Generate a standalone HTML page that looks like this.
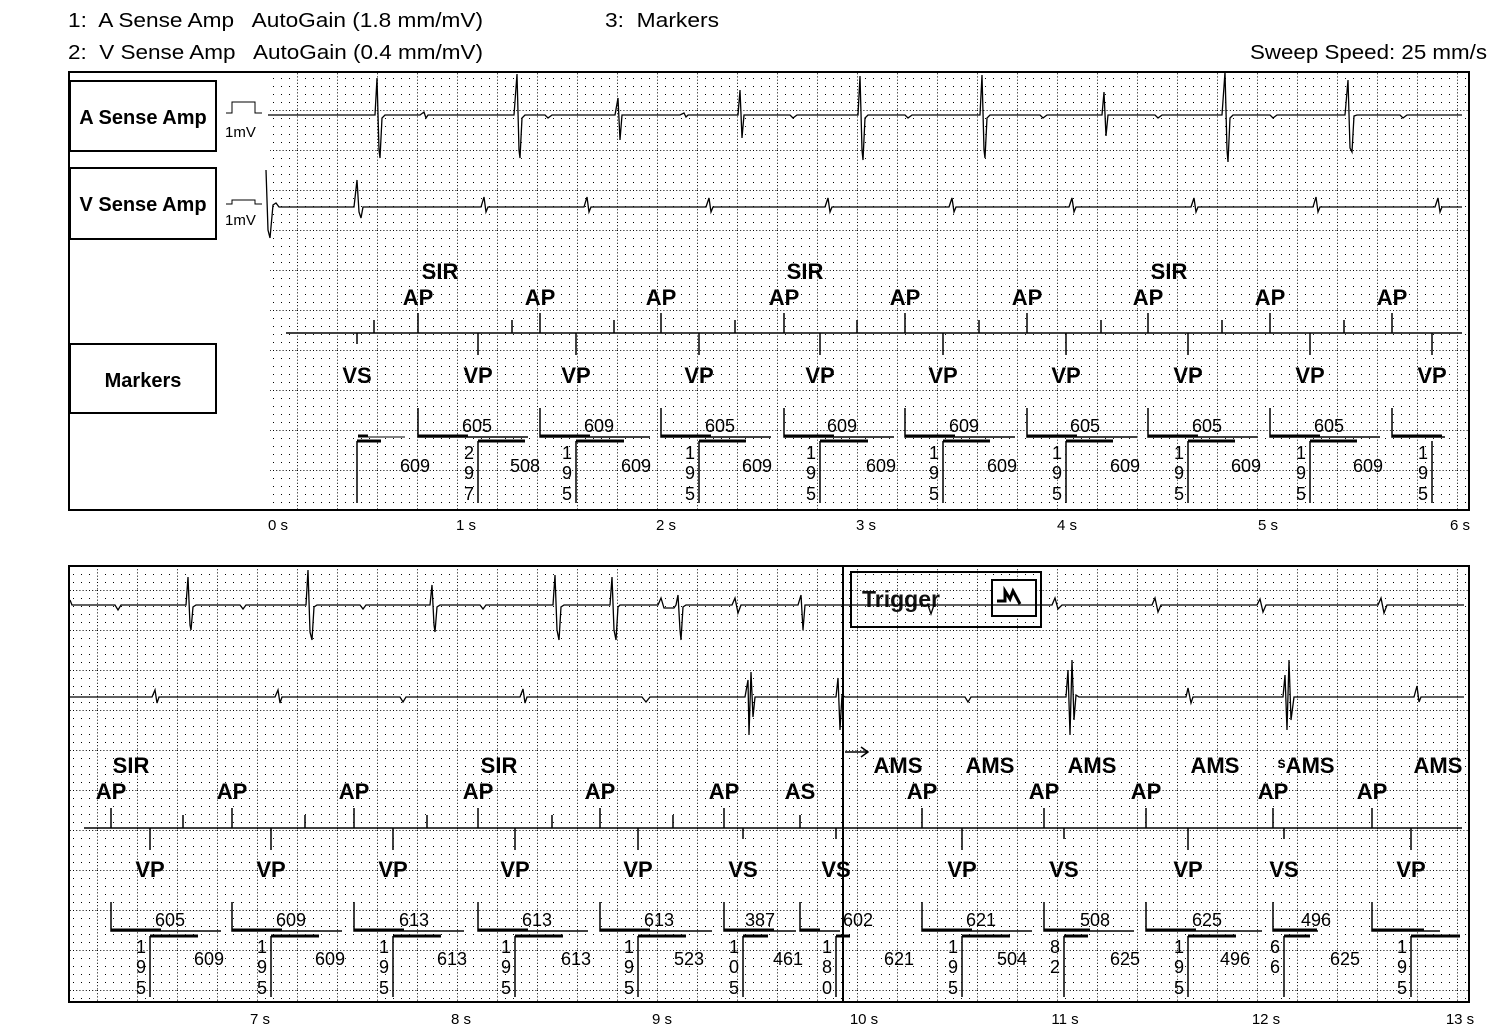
<!DOCTYPE html>
<html><head><meta charset="utf-8"><style>
html,body{margin:0;padding:0;background:#fff;}
svg{display:block;font-family:"Liberation Sans",Arial,sans-serif;}
text{white-space:pre;}
.h{font-size:20px;}
.b{font-size:22px;font-weight:bold;}
.n{font-size:18px;}
.t{font-size:15px;}
.bx{font-size:20px;font-weight:bold;}
</style></head><body>
<svg width="1500" height="1031" viewBox="0 0 1500 1031" xmlns="http://www.w3.org/2000/svg" xml:space="preserve">
<defs>
<pattern id="g" x="17" y="30" width="40" height="40" patternUnits="userSpaceOnUse">
<line x1="0.5" y1="0" x2="0.5" y2="40" stroke="#000" stroke-width="1" stroke-dasharray="1 2.2"/>
<line x1="0" y1="0.5" x2="40" y2="0.5" stroke="#000" stroke-width="1" stroke-dasharray="1 2.2"/>
<g fill="#000">
<rect x="8" y="8" width="1" height="1"/><rect x="16" y="8" width="1" height="1"/><rect x="24" y="8" width="1" height="1"/><rect x="32" y="8" width="1" height="1"/>
<rect x="8" y="16" width="1" height="1"/><rect x="16" y="16" width="1" height="1"/><rect x="24" y="16" width="1" height="1"/><rect x="32" y="16" width="1" height="1"/>
<rect x="8" y="24" width="1" height="1"/><rect x="16" y="24" width="1" height="1"/><rect x="24" y="24" width="1" height="1"/><rect x="32" y="24" width="1" height="1"/>
<rect x="8" y="32" width="1" height="1"/><rect x="16" y="32" width="1" height="1"/><rect x="24" y="32" width="1" height="1"/><rect x="32" y="32" width="1" height="1"/>
</g>
</pattern>
</defs>

<!-- header -->
<text class="h" x="68" y="27" textLength="415" lengthAdjust="spacingAndGlyphs">1:  A Sense Amp   AutoGain (1.8 mm/mV)</text>
<text class="h" x="605" y="27" textLength="114" lengthAdjust="spacingAndGlyphs">3:  Markers</text>
<text class="h" x="68" y="59" textLength="415" lengthAdjust="spacingAndGlyphs">2:  V Sense Amp   AutoGain (0.4 mm/mV)</text>
<text class="h" x="1250" y="59" textLength="237" lengthAdjust="spacingAndGlyphs">Sweep Speed: 25 mm/s</text>

<!-- TOP PANEL -->
<rect x="270" y="73" width="1198" height="436" fill="url(#g)"/>
<rect x="69" y="72" width="1400" height="438" fill="none" stroke="#000" stroke-width="2"/>
<rect x="70" y="81" width="146" height="70" fill="#fff" stroke="#000" stroke-width="2"/>
<text class="bx" x="143" y="124" text-anchor="middle">A Sense Amp</text>
<rect x="70" y="168" width="146" height="71" fill="#fff" stroke="#000" stroke-width="2"/>
<text class="bx" x="143" y="211" text-anchor="middle">V Sense Amp</text>
<rect x="70" y="344" width="146" height="69" fill="#fff" stroke="#000" stroke-width="2"/>
<text class="bx" x="143" y="387" text-anchor="middle">Markers</text>
<path d="M226 113 H232 V102 H255 V113 H262" fill="none" stroke="#000"/>
<text x="225" y="137" font-size="15">1mV</text>
<path d="M226 204 H232 V200 H255 V204 H262" fill="none" stroke="#000"/>
<text x="225" y="225" font-size="15">1mV</text>

<g fill="none" stroke="#000" stroke-width="1.3">
<path d="M268 115 H372 L375 115 L377 78 L379 150 L380 158 L382 118 L385 115 H420 L424 112 L426 118 L428 115 H510 L514 115 L517 74 L519 150 L520 158 L522 118 L525 115 H545 L548 118 L552 115 H612 L615 115 L618 98 L620 140 L622 115 H680 L684 113 L686 117 L688 115 H735 L738 115 L740 90 L742 138 L744 115 H790 L793 118 L797 115 H855 L858 115 L860 76 L862 150 L863 160 L865 118 L868 115 H905 L908 118 L912 115 H978 L980 115 L982 75 L984 150 L985 158 L987 118 L990 115 H1040 L1043 118 L1047 115 H1100 L1102 115 L1104 92 L1106 136 L1108 115 H1155 L1158 118 L1162 115 H1220 L1222 115 L1225 72 L1227 150 L1228 162 L1230 118 L1233 115 H1270 L1273 118 L1277 115 H1343 L1345 115 L1348 80 L1350 148 L1352 152 L1354 116 L1357 115 H1400 L1403 118 L1407 115 H1462"/>
<path d="M266 170 L268 230 L270 238 L273 205 L276 203 L279 207 H354 L357 180 L359 212 L361 218 L363 207 H481 L484 197 L486 212 L488 207 H584 L587 197 L589 212 L591 207 H706 L709 198 L711 212 L713 207 H825 L828 198 L830 212 L832 207 H949 L952 198 L954 212 L956 207 H1069 L1072 198 L1074 212 L1076 207 H1191 L1194 198 L1196 212 L1198 207 H1313 L1316 197 L1318 212 L1320 207 H1435 L1438 198 L1440 212 L1442 207 H1462"/>
</g>

<!-- top markers -->
<g stroke="#000" stroke-width="1.5">
<line x1="286" y1="333" x2="1462" y2="333"/>
<line x1="418" y1="313" x2="418" y2="333"/><line x1="540" y1="313" x2="540" y2="333"/><line x1="661" y1="313" x2="661" y2="333"/><line x1="784" y1="313" x2="784" y2="333"/><line x1="905" y1="313" x2="905" y2="333"/><line x1="1027" y1="313" x2="1027" y2="333"/><line x1="1148" y1="313" x2="1148" y2="333"/><line x1="1270" y1="313" x2="1270" y2="333"/><line x1="1392" y1="313" x2="1392" y2="333"/>
<line x1="374" y1="320" x2="374" y2="333"/><line x1="512" y1="320" x2="512" y2="333"/><line x1="614" y1="320" x2="614" y2="333"/><line x1="735" y1="320" x2="735" y2="333"/><line x1="857" y1="320" x2="857" y2="333"/><line x1="979" y1="320" x2="979" y2="333"/><line x1="1101" y1="320" x2="1101" y2="333"/><line x1="1222" y1="320" x2="1222" y2="333"/><line x1="1344" y1="320" x2="1344" y2="333"/>
<line x1="357" y1="333" x2="357" y2="344"/><line x1="478" y1="333" x2="478" y2="355"/><line x1="576" y1="333" x2="576" y2="355"/><line x1="699" y1="333" x2="699" y2="355"/><line x1="820" y1="333" x2="820" y2="355"/><line x1="943" y1="333" x2="943" y2="355"/><line x1="1066" y1="333" x2="1066" y2="355"/><line x1="1188" y1="333" x2="1188" y2="355"/><line x1="1310" y1="333" x2="1310" y2="355"/><line x1="1432" y1="333" x2="1432" y2="355"/>
</g>
<g class="b" text-anchor="middle">
<text x="440" y="279">SIR</text><text x="805" y="279">SIR</text><text x="1169" y="279">SIR</text>
<text x="418" y="305">AP</text><text x="540" y="305">AP</text><text x="661" y="305">AP</text><text x="784" y="305">AP</text><text x="905" y="305">AP</text><text x="1027" y="305">AP</text><text x="1148" y="305">AP</text><text x="1270" y="305">AP</text><text x="1392" y="305">AP</text>
<text x="357" y="383">VS</text><text x="478" y="383">VP</text><text x="576" y="383">VP</text><text x="699" y="383">VP</text><text x="820" y="383">VP</text><text x="943" y="383">VP</text><text x="1066" y="383">VP</text><text x="1188" y="383">VP</text><text x="1310" y="383">VP</text><text x="1432" y="383">VP</text>
</g>
<!-- top intervals -->
<g stroke="#000" fill="none">
<path d="M358 437 H405" stroke-width="1"/><path d="M358 436 H368" stroke-width="3"/>
<path d="M418 408 V437 H528 M540 408 V437 H650 M661 408 V437 H771 M784 408 V437 H894 M905 408 V437 H1015 M1027 408 V437 H1137 M1148 408 V437 H1258 M1270 408 V437 H1380 M1392 408 V437 H1445" stroke-width="1.5"/>
<path d="M418 436 H468 M540 436 H590 M661 436 H711 M784 436 H834 M905 436 H955 M1027 436 H1077 M1148 436 H1198 M1270 436 H1320 M1392 436 H1442" stroke-width="3"/>
<path d="M357 441 V503 M478 441 V503 M576 441 V503 M699 441 V503 M820 441 V503 M943 441 V503 M1066 441 V503 M1188 441 V503 M1310 441 V503 M1432 441 V503" stroke-width="1.5"/>
<path d="M357 441 H381 M478 441 H525 M576 441 H624 M699 441 H746 M820 441 H868 M943 441 H990 M1066 441 H1113 M1188 441 H1235 M1310 441 H1357" stroke-width="3"/>
</g>
<g class="n" text-anchor="middle">
<text x="477" y="432">605</text><text x="599" y="432">609</text><text x="720" y="432">605</text><text x="842" y="432">609</text><text x="964" y="432">609</text><text x="1085" y="432">605</text><text x="1207" y="432">605</text><text x="1329" y="432">605</text>
<text x="415" y="472">609</text><text x="525" y="472">508</text><text x="636" y="472">609</text><text x="757" y="472">609</text><text x="881" y="472">609</text><text x="1002" y="472">609</text><text x="1125" y="472">609</text><text x="1246" y="472">609</text><text x="1368" y="472">609</text>
<text x="469" y="459">2</text><text x="469" y="479">9</text><text x="469" y="500">7</text>
<text x="567" y="459">1</text><text x="567" y="479">9</text><text x="567" y="500">5</text>
<text x="690" y="459">1</text><text x="690" y="479">9</text><text x="690" y="500">5</text>
<text x="811" y="459">1</text><text x="811" y="479">9</text><text x="811" y="500">5</text>
<text x="934" y="459">1</text><text x="934" y="479">9</text><text x="934" y="500">5</text>
<text x="1057" y="459">1</text><text x="1057" y="479">9</text><text x="1057" y="500">5</text>
<text x="1179" y="459">1</text><text x="1179" y="479">9</text><text x="1179" y="500">5</text>
<text x="1301" y="459">1</text><text x="1301" y="479">9</text><text x="1301" y="500">5</text>
<text x="1423" y="459">1</text><text x="1423" y="479">9</text><text x="1423" y="500">5</text>
</g>
<g class="t" text-anchor="middle">
<text x="278" y="530">0 s</text><text x="466" y="530">1 s</text><text x="666" y="530">2 s</text><text x="866" y="530">3 s</text><text x="1067" y="530">4 s</text><text x="1268" y="530">5 s</text><text x="1460" y="530">6 s</text>
</g>

<!-- BOTTOM PANEL -->
<rect x="70" y="567" width="1398" height="434" fill="url(#g)"/>
<rect x="69" y="566" width="1400" height="436" fill="none" stroke="#000" stroke-width="2"/>
<line x1="843" y1="566" x2="843" y2="1002" stroke="#000" stroke-width="2"/>
<rect x="851" y="572" width="190" height="55" fill="none" stroke="#000" stroke-width="2"/>
<text x="862" y="607" font-size="23" font-weight="bold" fill="#111">Trigger</text>
<rect x="992" y="580" width="44" height="36" fill="#fff" stroke="#000" stroke-width="2"/>
<path d="M997 601 H1005 V591 L1010 599 L1013 591 L1020 604" fill="none" stroke="#000" stroke-width="3"/>
<g fill="none" stroke="#000" stroke-width="1.3">
<path d="M70 600 L72 605 H115 L118 610 L121 605 H183 L186 605 L188 577 L190 625 L191 630 L193 607 L196 605 H240 L243 609 L246 605 H303 L306 605 L308 570 L310 632 L312 640 L314 607 L317 605 H360 L363 609 L366 605 H428 L430 605 L432 585 L434 625 L435 632 L437 607 L440 605 H480 L483 609 L486 605 H550 L553 605 L555 575 L557 630 L559 640 L561 607 L564 605 H607 L610 605 L612 577 L614 630 L616 640 L618 607 L620 605 H658 L661 598 L664 608 H674 L676 605 L678 595 L680 630 L681 640 L683 607 L686 605 H732 L735 598 L738 613 L741 605 H798 L801 595 L803 630 L805 605 H1052 L1055 598 L1058 609 L1062 605 H1152 L1155 598 L1158 612 L1161 605 H1257 L1260 599 L1263 612 L1266 605 H1378 L1381 598 L1384 613 L1387 605 H1464"/>
<path d="M928 605 L931 614 L934 605"/>
<path d="M70 697 H152 L155 690 L157 703 L159 697 H275 L278 690 L280 703 L282 697 H400 L403 702 L406 697 H520 L523 689 L525 703 L527 697 H642 L646 702 L650 697 H742 L745 697 L748 680 L749 735 L751 672 L753 717 L755 697 H834 L836 697 L838 678 L840 730 L842 695 L845 697 H965 L968 702 L971 697 H1064 L1066 697 L1068 670 L1070 735 L1072 660 L1074 720 L1076 695 L1079 697 H1186 L1188 688 L1191 703 L1193 697 H1280 L1283 697 L1285 675 L1287 730 L1289 660 L1291 720 L1294 697 H1414 L1417 686 L1419 702 L1421 697 H1464"/>
</g>
<!-- bottom markers -->
<g stroke="#000" stroke-width="1.5">
<line x1="84" y1="828" x2="1462" y2="828"/>
<line x1="111" y1="808" x2="111" y2="828"/><line x1="232" y1="808" x2="232" y2="828"/><line x1="354" y1="808" x2="354" y2="828"/><line x1="478" y1="808" x2="478" y2="828"/><line x1="600" y1="808" x2="600" y2="828"/><line x1="724" y1="808" x2="724" y2="828"/><line x1="922" y1="808" x2="922" y2="828"/><line x1="1044" y1="808" x2="1044" y2="828"/><line x1="1146" y1="808" x2="1146" y2="828"/><line x1="1273" y1="808" x2="1273" y2="828"/><line x1="1372" y1="808" x2="1372" y2="828"/>
<line x1="183" y1="815" x2="183" y2="828"/><line x1="305" y1="815" x2="305" y2="828"/><line x1="427" y1="815" x2="427" y2="828"/><line x1="552" y1="815" x2="552" y2="828"/><line x1="673" y1="815" x2="673" y2="828"/><line x1="800" y1="815" x2="800" y2="828"/>
<line x1="150" y1="828" x2="150" y2="850"/><line x1="271" y1="828" x2="271" y2="850"/><line x1="393" y1="828" x2="393" y2="850"/><line x1="515" y1="828" x2="515" y2="850"/><line x1="638" y1="828" x2="638" y2="850"/><line x1="743" y1="828" x2="743" y2="839"/><line x1="836" y1="828" x2="836" y2="839"/><line x1="962" y1="828" x2="962" y2="850"/><line x1="1064" y1="828" x2="1064" y2="839"/><line x1="1188" y1="828" x2="1188" y2="850"/><line x1="1284" y1="828" x2="1284" y2="839"/><line x1="1411" y1="828" x2="1411" y2="850"/>
<path d="M845 752 H868 M861 747 L868 752 L861 757" fill="none"/>
</g>
<g class="b" text-anchor="middle">
<text x="131" y="773">SIR</text><text x="499" y="773">SIR</text>
<text x="898" y="773">AMS</text><text x="990" y="773">AMS</text><text x="1092" y="773">AMS</text><text x="1215" y="773">AMS</text><text x="1306" y="773">ˢAMS</text><text x="1438" y="773">AMS</text>
<text x="111" y="799">AP</text><text x="232" y="799">AP</text><text x="354" y="799">AP</text><text x="478" y="799">AP</text><text x="600" y="799">AP</text><text x="724" y="799">AP</text><text x="800" y="799">AS</text><text x="922" y="799">AP</text><text x="1044" y="799">AP</text><text x="1146" y="799">AP</text><text x="1273" y="799">AP</text><text x="1372" y="799">AP</text>
<text x="150" y="877">VP</text><text x="271" y="877">VP</text><text x="393" y="877">VP</text><text x="515" y="877">VP</text><text x="638" y="877">VP</text><text x="743" y="877">VS</text><text x="836" y="877">VS</text><text x="962" y="877">VP</text><text x="1064" y="877">VS</text><text x="1188" y="877">VP</text><text x="1284" y="877">VS</text><text x="1411" y="877">VP</text>
</g>
<g stroke="#000" fill="none">
<path d="M111 902 V931 H221 M232 902 V931 H342 M354 902 V931 H464 M478 902 V931 H588 M600 902 V931 H712 M724 902 V931 H796 M800 902 V931 H840 M922 902 V931 H1032 M1044 902 V931 H1134 M1146 902 V931 H1262 M1273 902 V931 H1318 M1372 902 V931 H1440" stroke-width="1.5"/>
<path d="M111 930 H161 M232 930 H282 M354 930 H404 M478 930 H528 M600 930 H650 M724 930 H774 M800 930 H820 M922 930 H972 M1044 930 H1090 M1146 930 H1196 M1273 930 H1317 M1372 930 H1424" stroke-width="3"/>
<path d="M150 936 V997 M271 936 V997 M393 936 V997 M515 936 V997 M638 936 V997 M743 936 V997 M836 936 V997 M962 936 V997 M1064 936 V997 M1188 936 V997 M1284 936 V997 M1411 936 V997" stroke-width="1.5"/>
<path d="M150 936 H198 M271 936 H319 M393 936 H441 M515 936 H563 M638 936 H686 M743 936 H768 M836 936 H850 M962 936 H1010 M1064 936 H1088 M1188 936 H1236 M1284 936 H1310 M1411 936 H1460" stroke-width="3"/>
</g>
<g class="n" text-anchor="middle">
<text x="170" y="926">605</text><text x="291" y="926">609</text><text x="414" y="926">613</text><text x="537" y="926">613</text><text x="659" y="926">613</text><text x="760" y="926">387</text><text x="858" y="926">602</text><text x="981" y="926">621</text><text x="1095" y="926">508</text><text x="1207" y="926">625</text><text x="1316" y="926">496</text>
<text x="209" y="965">609</text><text x="330" y="965">609</text><text x="452" y="965">613</text><text x="576" y="965">613</text><text x="689" y="965">523</text><text x="788" y="965">461</text><text x="899" y="965">621</text><text x="1012" y="965">504</text><text x="1125" y="965">625</text><text x="1235" y="965">496</text><text x="1345" y="965">625</text>
<text x="141" y="953">1</text><text x="141" y="973">9</text><text x="141" y="994">5</text>
<text x="262" y="953">1</text><text x="262" y="973">9</text><text x="262" y="994">5</text>
<text x="384" y="953">1</text><text x="384" y="973">9</text><text x="384" y="994">5</text>
<text x="506" y="953">1</text><text x="506" y="973">9</text><text x="506" y="994">5</text>
<text x="629" y="953">1</text><text x="629" y="973">9</text><text x="629" y="994">5</text>
<text x="734" y="953">1</text><text x="734" y="973">0</text><text x="734" y="994">5</text>
<text x="827" y="953">1</text><text x="827" y="973">8</text><text x="827" y="994">0</text>
<text x="953" y="953">1</text><text x="953" y="973">9</text><text x="953" y="994">5</text>
<text x="1055" y="953">8</text><text x="1055" y="973">2</text>
<text x="1179" y="953">1</text><text x="1179" y="973">9</text><text x="1179" y="994">5</text>
<text x="1275" y="953">6</text><text x="1275" y="973">6</text>
<text x="1402" y="953">1</text><text x="1402" y="973">9</text><text x="1402" y="994">5</text>
</g>
<g class="t" text-anchor="middle">
<text x="260" y="1024">7 s</text><text x="461" y="1024">8 s</text><text x="662" y="1024">9 s</text><text x="864" y="1024">10 s</text><text x="1065" y="1024">11 s</text><text x="1266" y="1024">12 s</text><text x="1460" y="1024">13 s</text>
</g>
</svg>
</body></html>
